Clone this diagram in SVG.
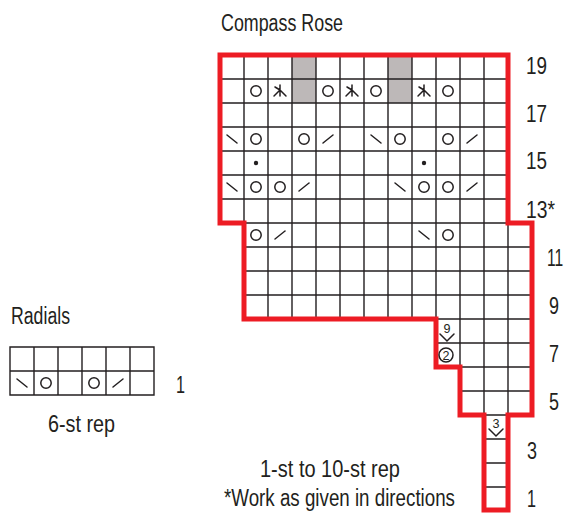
<svg xmlns="http://www.w3.org/2000/svg" xmlns:xlink="http://www.w3.org/1999/xlink" width="568" height="514" viewBox="0 0 568 514">
<style>
.t{font-family:"Liberation Sans",Arial,sans-serif;font-size:23px;fill:#231f20}
.sm{font-family:"Liberation Sans",Arial,sans-serif;font-size:13px;fill:#231f20}
.g{stroke:#231f20;stroke-width:1.4;fill:none}
.red{stroke:#ed1c24;stroke-width:5;fill:none;stroke-linejoin:miter}
.sym{stroke:#231f20;stroke-width:1.5;fill:none;stroke-linecap:round}
.gray{fill:#bdb8b8}
</style>
<defs>
<circle id="yo" cx="0" cy="0" r="5.2" class="sym"/>
<line id="k2tog" x1="-5" y1="4" x2="5" y2="-4" class="sym"/>
<line id="ssk" x1="-5" y1="-4" x2="5" y2="4" class="sym"/>
<g id="sk2p" class="sym"><path d="M0,-6 V5 M-6,5 L0,-1 L6,5 M-5,-4 L0,-1"/></g>
<circle id="dot" cx="0" cy="0" r="2.2" fill="#231f20"/>
</defs>
<text class="t" x="221" y="31" textLength="122" lengthAdjust="spacingAndGlyphs">Compass Rose</text>
<g id="chart">
<rect class="gray" x="292" y="55" width="24" height="48"/>
<rect class="gray" x="388" y="55" width="24" height="48"/>
<path class="g" d="M244,55V223 M268,55V319 M292,55V319 M316,55V319 M340,55V319 M364,55V319 M388,55V319 M412,55V319 M436,55V319 M460,55V367 M484,55V415 M508,223V415
M220,79H508 M220,103H508 M220,127H508 M220,151H508 M220,175H508 M220,199H508 M244,223H508 M244,247H532 M244,271H532 M244,295H532 M436,319H532 M436,343H532 M460,367H532 M460,391H532 M484,415H508 M484,439H508 M484,463H508 M484,487H508"/>
<path class="red" d="M220,55H508V223H532V415H508V510H484V415H460V367H436V319H244V223H220Z"/>
</g>
<g id="symbols">
<use xlink:href="#yo" x="256" y="91"/><use xlink:href="#sk2p" x="280" y="91"/><use xlink:href="#yo" x="328" y="91"/><use xlink:href="#sk2p" x="352" y="91"/><use xlink:href="#yo" x="376" y="91"/><use xlink:href="#sk2p" x="424" y="91"/><use xlink:href="#yo" x="448" y="91"/>
<use xlink:href="#ssk" x="232" y="139"/><use xlink:href="#yo" x="256" y="139"/><use xlink:href="#yo" x="304" y="139"/><use xlink:href="#k2tog" x="328" y="139"/><use xlink:href="#ssk" x="376" y="139"/><use xlink:href="#yo" x="400" y="139"/><use xlink:href="#yo" x="448" y="139"/><use xlink:href="#k2tog" x="472" y="139"/>
<use xlink:href="#dot" x="256" y="163"/><use xlink:href="#dot" x="424" y="163"/>
<use xlink:href="#ssk" x="232" y="187"/><use xlink:href="#yo" x="256" y="187"/><use xlink:href="#yo" x="280" y="187"/><use xlink:href="#k2tog" x="304" y="187"/><use xlink:href="#ssk" x="400" y="187"/><use xlink:href="#yo" x="424" y="187"/><use xlink:href="#yo" x="448" y="187"/><use xlink:href="#k2tog" x="472" y="187"/>
<use xlink:href="#yo" x="256" y="235"/><use xlink:href="#k2tog" x="280" y="235"/><use xlink:href="#ssk" x="424" y="235"/><use xlink:href="#yo" x="448" y="235"/>
<text class="sm" x="447" y="333" text-anchor="middle" textLength="7" lengthAdjust="spacingAndGlyphs">9</text>
<path class="sym" d="M440,334L447,341L454,334"/>
<circle class="sym" cx="446" cy="355" r="7"/>
<text class="sm" x="446" y="360" text-anchor="middle" textLength="7" lengthAdjust="spacingAndGlyphs">2</text>
<text class="sm" x="496" y="428" text-anchor="middle" textLength="7" lengthAdjust="spacingAndGlyphs">3</text>
<path class="sym" d="M489,429L496,436L503,429"/>
</g>
<g id="rowlabels">
<text class="t" x="526" y="74" textLength="21" lengthAdjust="spacingAndGlyphs">19</text>
<text class="t" x="526" y="122" textLength="21" lengthAdjust="spacingAndGlyphs">17</text>
<text class="t" x="526" y="169" textLength="21" lengthAdjust="spacingAndGlyphs">15</text>
<text class="t" x="526" y="218" textLength="29" lengthAdjust="spacingAndGlyphs">13*</text>
<text class="t" transform="translate(547,266) scale(0.68,1)" x="0" y="0">11</text>
<text class="t" x="549" y="314" textLength="10" lengthAdjust="spacingAndGlyphs">9</text>
<text class="t" x="549" y="362" textLength="10" lengthAdjust="spacingAndGlyphs">7</text>
<text class="t" x="549" y="410" textLength="10" lengthAdjust="spacingAndGlyphs">5</text>
<text class="t" x="527" y="459" textLength="10" lengthAdjust="spacingAndGlyphs">3</text>
<text class="t" x="527" y="507" textLength="9" lengthAdjust="spacingAndGlyphs">1</text>
</g>
<g id="radials">
<text class="t" x="11" y="324" textLength="59" lengthAdjust="spacingAndGlyphs">Radials</text>
<path class="g" d="M10,347H154V395H10Z M10,371H154 M34,347V395 M58,347V395 M82,347V395 M106,347V395 M130,347V395"/>
<use xlink:href="#ssk" x="22" y="383"/><use xlink:href="#yo" x="46" y="383"/><use xlink:href="#yo" x="94" y="383"/><use xlink:href="#k2tog" x="118" y="383"/>
<text class="t" x="176" y="393" textLength="9" lengthAdjust="spacingAndGlyphs">1</text>
<text class="t" x="48" y="432" textLength="67" lengthAdjust="spacingAndGlyphs">6-st rep</text>
</g>
<text class="t" x="260" y="477" textLength="140" lengthAdjust="spacingAndGlyphs">1-st to 10-st rep</text>
<text class="t" x="224" y="506" textLength="231" lengthAdjust="spacingAndGlyphs">*Work as given in directions</text>
</svg>
